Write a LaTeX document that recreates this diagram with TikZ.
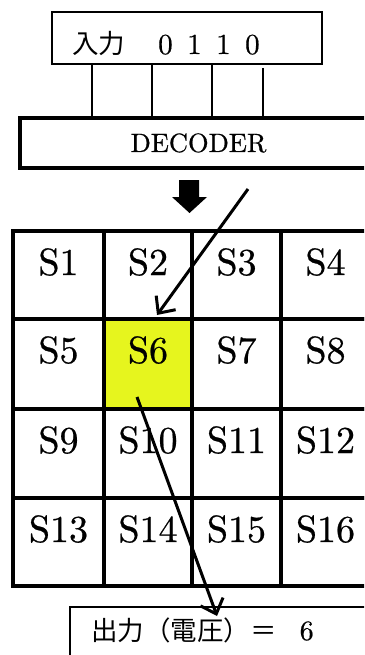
\documentclass[tikz,border=0pt]{standalone}
\usepackage{fontspec}
\setmainfont{lmroman10-regular}[Extension=.otf, BoldFont=lmroman10-bold]
\newfontfamily\heavy{lmroman10-regular}[Extension=.otf, FakeBold=0.6]
\newfontfamily\cjk{Noto Sans CJK JP}
\usetikzlibrary{arrows.meta}
\definecolor{selyellow}{RGB}{230,245,30}
\tikzset{
  thinbox/.style={draw=black, line width=1.8pt, rectangle, inner sep=0pt},
  decbox/.style={draw=black, line width=3.2pt, rectangle, inner sep=0pt, minimum width=350pt, minimum height=50pt},
  cellbox/.style={draw=black, line width=3.3pt, rectangle, inner sep=0pt},
  celltext/.style={anchor=base, inner sep=0pt, font=\heavy\fontsize{38}{40}\selectfont},
  wire/.style={line width=2.5pt},
  ptr/.style={line width=3pt, -{Straight Barb[length=13pt,width=24pt,line width=3pt]}},
}
\begin{document}
\begin{tikzpicture}[x=1pt,y=-1pt]
\clip (0,0) rectangle (364,655);
\fill[white] (0,0) rectangle (364,655);
% input box
\node[thinbox, minimum width=270pt, minimum height=52pt] (inbox) at (187,38) {};
\node[anchor=base west, inner sep=0pt, font=\fontsize{26.5}{28}\selectfont] (intext) at (72,54)
  {{\cjk 入力}\hspace{33pt}{\heavy\fontsize{29}{30}\selectfont 0\hspace{14.5pt}1\hspace{14.5pt}1\hspace{14.5pt}0}};
% decoder
\node[decbox] (dec) at (195,143) {};
\node[anchor=base, inner sep=0pt, font=\heavy\fontsize{26.5}{28}\selectfont] (dectext) at (198.5,152) {DECODER};
% wires
\foreach \x/\ys in {92/64,152/64,212/64,263/68} {
  \coordinate (w\x) at (\x,\ys);
  \draw[wire] (w\x) -- (w\x |- dec.north);
}
% block arrow
\fill[black] (179,180) -- (199,180) -- (199,197) -- (207,197) -- (189.5,213) -- (172,197) -- (179,197) -- cycle;
% grid
\foreach \r/\ya/\yb in {0/231/319,1/319/409,2/409/498,3/498/586} {
  \foreach \c/\xa/\xb in {0/13/104,1/104/192,2/192/281,3/281/370} {
    \pgfmathtruncatemacro\n{4*\r+\c+1}
    \pgfmathsetmacro\w{\xb-\xa}
    \pgfmathsetmacro\h{\yb-\ya}
    \ifnum\n=6
      \node[cellbox, fill=selyellow, minimum width=\w pt, minimum height=\h pt] (c\n) at ({(\xa+\xb)/2},{(\ya+\yb)/2}) {};
    \else
      \node[cellbox, minimum width=\w pt, minimum height=\h pt] (c\n) at ({(\xa+\xb)/2},{(\ya+\yb)/2}) {};
    \fi
    \node[celltext] (t\n) at ({(\xa+\xb)/2},{\ya+44}) {S\n};
  }
}
% output box
\node[thinbox, minimum width=300pt, minimum height=60pt] (outbox) at (220,637) {};
\node[anchor=base west, inner sep=0pt, font=\fontsize{26.5}{28}\selectfont] (outtext) at (91,640)
  {{\cjk 出力（電圧）＝}\hspace{23pt}{\heavy\fontsize{28}{30}\selectfont 6}};
% pointer arrows
\coordinate (p1s) at (248,189);
\coordinate (p1e) at (157,315);
\coordinate (p2s) at (137,397);
\coordinate (p2e) at (217,616);
\draw[ptr] (p1s) -- (p1e);
\draw[ptr] (p2s) -- (p2e);
\end{tikzpicture}
\end{document}
